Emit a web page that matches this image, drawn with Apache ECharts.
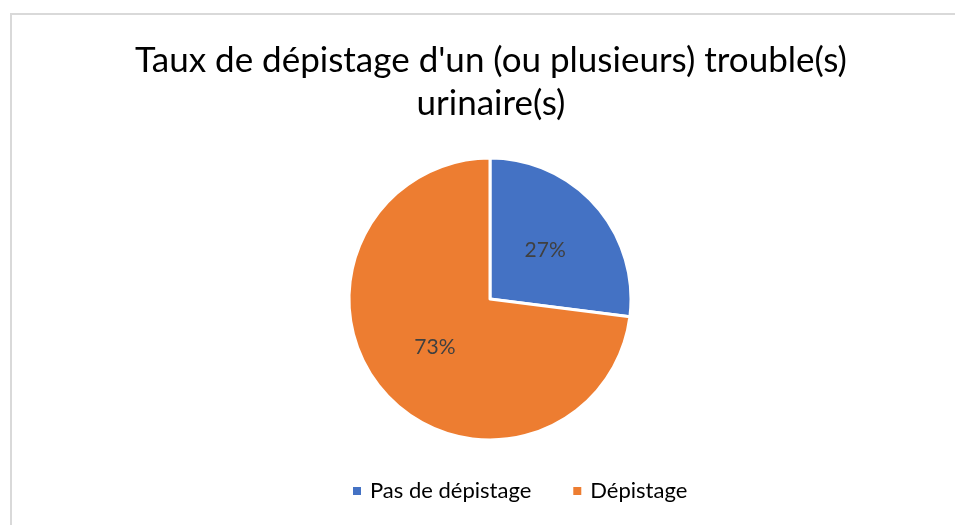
<!DOCTYPE html>
<html>
<head>
<meta charset="utf-8">
<script src="https://cdn.jsdelivr.net/npm/echarts@6/dist/echarts.min.js"></script>
<style>html,body{margin:0;padding:0;background:#fff;}#c{width:955px;height:525px;}</style>
</head>
<body>
<div id="c"></div>
<script>
var categories = ['Pas de dépistage', 'Dépistage'];
var values = [27, 73];
var colors = ['#4472C4', '#ED7D31'];
var titleText = "Taux de dépistage d'un (ou plusieurs) trouble(s)\nurinaire(s)";

var chart = echarts.init(document.getElementById('c'), null, {renderer: 'canvas'});
chart.setOption({
  animation: false,
  color: colors,
  graphic: [{
    type: 'rect',
    shape: {x: 11, y: 14, width: 960, height: 530},
    style: {fill: 'none', stroke: '#d9d9d9', lineWidth: 2},
    silent: true
  }],
  title: {
    text: titleText,
    left: 486,
    textAlign: 'center',
    top: 34,
    textStyle: {fontFamily: 'Lato', fontSize: 35, fontWeight: 'normal', color: '#000', lineHeight: 43}
  },
  legend: {
    data: categories,
    bottom: 18,
    left: 346,
    itemWidth: 10,
    itemHeight: 10,
    icon: 'rect',
    itemGap: 40,
    textStyle: {fontFamily: 'Lato', fontSize: 22, color: '#000', padding: [0, 0, 0, 3]}
  },
  series: [{
    type: 'pie',
    center: [490, 299],
    radius: 141,
    startAngle: 90,
    clockwise: true,
    data: categories.map(function (c, i) { return {name: c, value: values[i]}; }),
    itemStyle: {borderColor: '#fff', borderWidth: 3},
    label: {
      position: 'inside',
      formatter: '{d}%',
      fontFamily: 'Lato',
      fontSize: 21,
      color: '#404040'
    },
    labelLine: {show: false}
  }]
});
</script>
</body>
</html>
